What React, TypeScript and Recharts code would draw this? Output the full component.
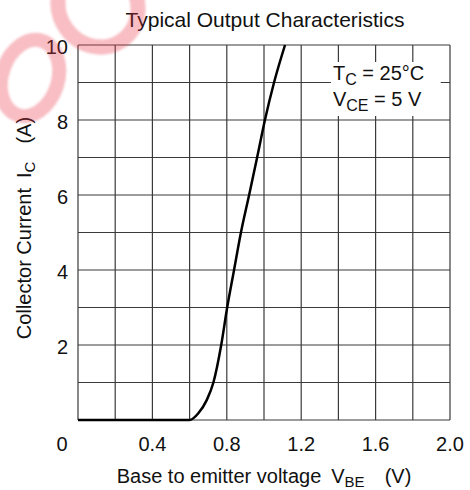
import { LineChart, Line, XAxis, YAxis, CartesianGrid, ReferenceArea, Label } from 'recharts';

const FONT = '"Liberation Sans", Arial, sans-serif';

// base-emitter voltage (V) and collector current (A)
const vbe = [0, 0.6, 0.647, 0.692, 0.728, 0.77, 0.802, 0.839, 0.876, 0.92, 0.963, 1.005, 1.054, 1.113];
const ic = [0, 0, 0.18, 0.53, 1.0, 2.0, 3.0, 4.0, 5.0, 6.0, 7.0, 8.0, 9.0, 10.0];

const xTicks = [0, 0.2, 0.4, 0.6, 0.8, 1.0, 1.2, 1.4, 1.6, 1.8, 2.0];
const xLabels = ['0', '', '0.4', '', '0.8', '', '1.2', '', '1.6', '', '2.0'];
const yTicks = [0, 1, 2, 3, 4, 5, 6, 7, 8, 9, 10];
const yLabels = ['', '', '2', '', '4', '', '6', '', '8', '', '10'];

const data = vbe.map((v, k) => ({ v, i: ic[k] }));

const XTick = (props: any) => {
  const { x, y, index } = props;
  const label = xLabels[index];
  if (!label) return null;
  // the "0" sits out at the corner, left of the frame
  const dx = index === 0 ? -16 : 0;
  return (
    <text x={x + dx} y={y + 31} textAnchor="middle" fontSize={20} fontFamily={FONT} fill="#111">
      {label}
    </text>
  );
};

const YTick = (props: any) => {
  const { x, y, index } = props;
  const label = yLabels[index];
  if (!label) return null;
  return (
    <text x={x - 10} y={y + 9} textAnchor="end" fontSize={20} fontFamily={FONT} fill="#111">
      {label}
    </text>
  );
};

const Conditions = (props: any) => {
  const { x, y } = props.viewBox;
  return (
    <text fontSize={20} fontFamily={FONT} fill="#111">
      <tspan x={x + 2} y={y + 18}>T</tspan>
      <tspan fontSize={16} dy={5}>C</tspan>
      <tspan dy={-5}> = 25°C</tspan>
      <tspan x={x + 2} y={y + 44}>V</tspan>
      <tspan fontSize={16} dy={5}>CE</tspan>
      <tspan dy={-5}> = 5 V</tspan>
    </text>
  );
};

const Watermark = () => (
  <svg
    width={470}
    height={490}
    style={{ position: 'absolute', left: 0, top: 0, pointerEvents: 'none' }}
  >
    <defs>
      <filter id="soft">
        <feGaussianBlur stdDeviation={1.2} />
      </filter>
    </defs>
    <g filter="url(#soft)" fill="none" stroke="rgb(232,50,70)" strokeOpacity={0.32}>
      <ellipse cx={30} cy={78} rx={28} ry={39} transform="rotate(18 30 78)" strokeWidth={14} />
      <ellipse cx={98} cy={6} rx={39} ry={42} transform="rotate(-35 98 6)" strokeWidth={15} />
    </g>
  </svg>
);

export default function App() {
  return (
    <div style={{ position: 'absolute', left: 0, top: 0, width: 470, height: 490, background: '#fff' }}>
      <LineChart width={470} height={490} data={data} margin={{ top: 45, right: 20, left: 0, bottom: 0 }}>
        <CartesianGrid stroke="#3a3a3a" strokeWidth={1.2} />
        <XAxis
          type="number"
          dataKey="v"
          domain={[0, 2]}
          ticks={xTicks}
          height={70}
          tickSize={0}
          tickMargin={0}
          tickLine={false}
          axisLine={false}
          tick={<XTick />}
          interval={0}
        />
        <YAxis
          type="number"
          domain={[0, 10]}
          ticks={yTicks}
          width={78}
          tickSize={0}
          tickMargin={0}
          tickLine={false}
          axisLine={false}
          tick={<YTick />}
          interval={0}
        />
        <ReferenceArea x1={1.36} x2={1.95} y1={8.11} y2={9.55} fill="#fff" fillOpacity={1} stroke="none">
          <Label content={<Conditions />} />
        </ReferenceArea>
        <Line
          type="monotone"
          dataKey="i"
          stroke="#000"
          strokeWidth={2.5}
          dot={false}
          isAnimationActive={false}
        />
        <text x={265} y={27} textAnchor="middle" fontSize={21} fontFamily={FONT} fill="#111">
          Typical Output Characteristics
        </text>
        <text x={264} y={483} textAnchor="middle" fontSize={20} fontFamily={FONT} fill="#111">
          <tspan>Base to emitter voltage</tspan>
          <tspan dx={10}>V</tspan>
          <tspan fontSize={15} dy={4}>BE</tspan>
          <tspan dy={-4} dx={20}>(V)</tspan>
        </text>
        <text x={31} y={228} textAnchor="middle" fontSize={20} fontFamily={FONT} fill="#111"
          transform="rotate(-90 31 228)">
          <tspan>Collector Current</tspan>
          <tspan dx={10}>I</tspan>
          <tspan fontSize={15} dy={4}>C</tspan>
          <tspan dy={-4} dx={18}>(A)</tspan>
        </text>
      </LineChart>
      <Watermark />
    </div>
  );
}
